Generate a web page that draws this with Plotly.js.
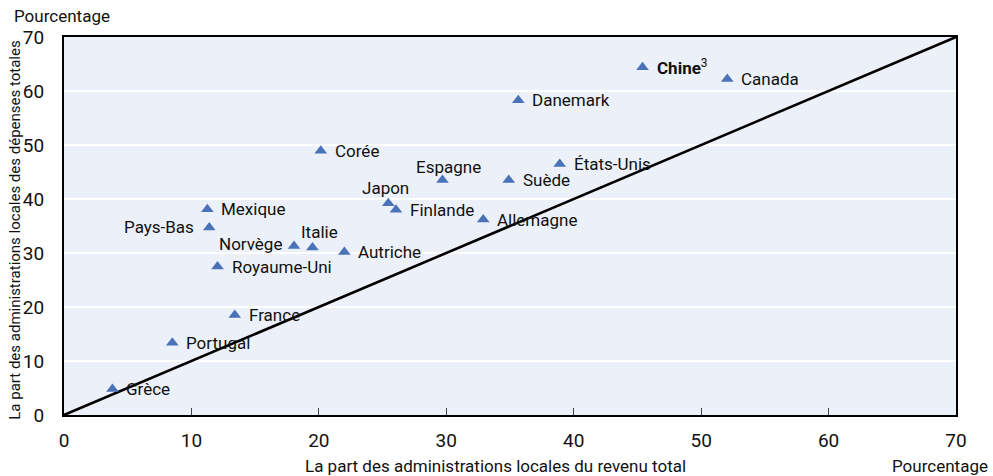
<!DOCTYPE html>
<html>
<head>
<meta charset="utf-8">
<script src="https://cdn.plot.ly/plotly-3.0.1.min.js"></script>
<style>
html,body{margin:0;padding:0;background:#fff;}
#chart{width:993px;height:476px;}
</style>
</head>
<body>
<div id="chart"></div>
<script>
// Data
const countries = ["Grèce","Portugal","France","Royaume-Uni","Norvège","Italie","Autriche","Pays-Bas","Mexique","Corée","Japon","Finlande","Espagne","Allemagne","Suède","États-Unis","Danemark","Chine","Canada"];
const revenueShare = [3.8, 8.5, 13.4, 12.05, 18.05, 19.5, 22.0, 11.4, 11.25, 20.15, 25.45, 26.05, 29.7, 32.9, 34.9, 38.9, 35.65, 45.4, 52.05];
const spendingShare = [4.8, 13.4, 18.5, 27.5, 31.3, 31.0, 30.2, 34.7, 38.1, 48.95, 39.2, 38.0, 43.5, 36.2, 43.5, 46.5, 58.3, 64.4, 62.2];
const labelTexts = ["Grèce","Portugal","France","Royaume-Uni","Norvège","Italie","Autriche","Pays-Bas","Mexique","Corée","Japon","Finlande","Espagne","Allemagne","Suède","États-Unis","Danemark","<b>Chine</b><sup>3</sup>","Canada"];
const diagonalX = [0, 70];
const diagonalY = [0, 70];
const xTicks = [0, 10, 20, 30, 40, 50, 60, 70];
const yTicks = [0, 10, 20, 30, 40, 50, 60, 70];

// Label placement (style): [xanchor, xshift, yshift]
const labelPlacement = {
  "Norvège": ["right", -10, 2],
  "Pays-Bas": ["right", -13, 1],
  "Japon": ["center", -3, 15],
  "Italie": ["center", 7, 16],
  "Espagne": ["center", 6, 13]
};

const FONT = "Roboto, 'Liberation Sans', sans-serif";
const FS = 17;

const annotations = countries.map((c, i) => {
  const p = labelPlacement[c] || ["left", 12, 0];
  return {
    x: revenueShare[i], y: spendingShare[i], xref: "x", yref: "y",
    text: labelTexts[i], showarrow: false,
    xanchor: p[0], yanchor: "middle", xshift: p[1], yshift: p[2],
    font: {family: FONT, size: FS, color: "#111"}
  };
});

annotations.push(
  {xref: "paper", yref: "paper", x: -0.0583, y: 1.055, xanchor: "left", yanchor: "middle",
   text: "Pourcentage", showarrow: false, font: {family: FONT, size: FS, color: "#111"}},
  {xref: "paper", yref: "paper", x: 1.038, y: -0.134, xanchor: "right", yanchor: "middle",
   text: "Pourcentage", showarrow: false, font: {family: FONT, size: FS, color: "#111"}},
  {xref: "paper", yref: "paper", x: 0.484, y: -0.134, xanchor: "center", yanchor: "middle",
   text: "La part des administrations locales du revenu total", showarrow: false, font: {family: FONT, size: FS, color: "#111"}},
  {xref: "paper", yref: "paper", x: -0.055, y: 0.49, xanchor: "center", yanchor: "middle", textangle: -90,
   text: "La part des administrations locales des dépenses totales", showarrow: false, font: {family: FONT, size: 15, color: "#111"}}
);

const traces = [
  {
    x: diagonalX, y: diagonalY, type: "scatter", mode: "lines",
    line: {color: "#000", width: 2.6}, hoverinfo: "skip", showlegend: false, cliponaxis: false
  },
  {
    x: revenueShare, y: spendingShare, type: "scatter", mode: "markers",
    marker: {symbol: "triangle-up", size: 11, color: "#4a72b8", line: {width: 0}},
    text: countries, showlegend: false, cliponaxis: false
  }
];

const layout = {
  width: 993, height: 476,
  margin: {l: 64, r: 37, t: 37, b: 61},
  paper_bgcolor: "#ffffff",
  plot_bgcolor: "#ecf0f8",
  showlegend: false,
  font: {family: FONT, size: FS, color: "#111"},
  xaxis: {
    range: [0, 70], tickvals: xTicks, ticktext: xTicks.map(String),
    showgrid: false, zeroline: false,
    showline: true, linecolor: "#000", linewidth: 2, mirror: true,
    ticks: "inside", ticklen: 7, tickwidth: 1.2, tickcolor: "#444",
    ticklabelstandoff: 7,
    tickfont: {family: FONT, size: 19, color: "#111"}
  },
  yaxis: {
    range: [0, 70], tickvals: yTicks, ticktext: yTicks.map(String),
    showgrid: true, gridcolor: "#ffffff", gridwidth: 1.5, zeroline: false,
    showline: true, linecolor: "#000", linewidth: 2, mirror: true,
    ticks: "", ticklabelstandoff: 14,
    tickfont: {family: FONT, size: 19, color: "#111"}
  },
  annotations: annotations
};

Plotly.newPlot("chart", traces, layout, {staticPlot: true, displayModeBar: false});
</script>
</body>
</html>
